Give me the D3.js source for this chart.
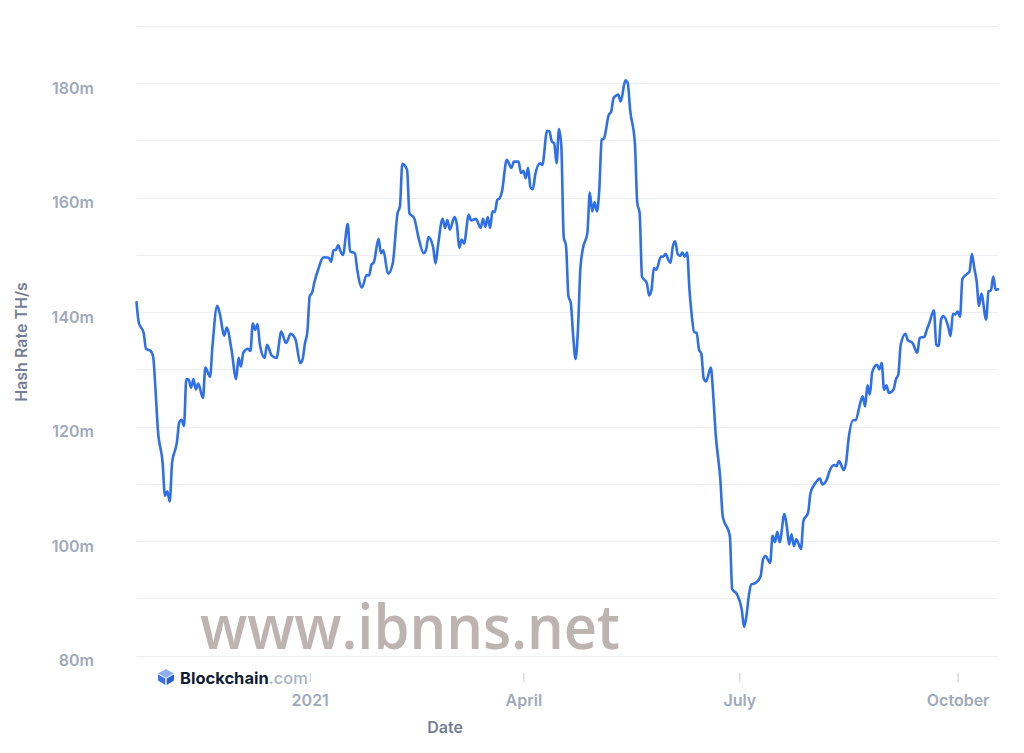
<!DOCTYPE html>
<html>
<head>
<meta charset="utf-8">
<script src="https://cdn.jsdelivr.net/npm/d3@7"></script>
<style>
  html, body { margin: 0; padding: 0; background: #ffffff; }
  svg { display: block; }
</style>
</head>
<body>
<svg id="chart" width="1024" height="753"></svg>
<script>
// ---- Data ----
const dates = [
"2020-10-20","2020-10-21","2020-10-23","2020-10-24","2020-10-26","2020-10-27","2020-10-28","2020-10-29","2020-10-31",
"2020-11-01","2020-11-02","2020-11-03","2020-11-04","2020-11-06","2020-11-07","2020-11-08","2020-11-09","2020-11-10",
"2020-11-11","2020-11-12","2020-11-13","2020-11-14","2020-11-15","2020-11-17","2020-11-18","2020-11-20","2020-11-21",
"2020-11-23","2020-11-24","2020-11-26","2020-11-27","2020-11-29","2020-12-01","2020-12-02","2020-12-03","2020-12-04",
"2020-12-06","2020-12-07","2020-12-08","2020-12-09","2020-12-10","2020-12-11","2020-12-13","2020-12-14","2020-12-16",
"2020-12-18","2020-12-20","2020-12-22","2020-12-24","2020-12-26","2020-12-28","2020-12-29","2020-12-30","2020-12-31",
"2021-01-01","2021-01-02","2021-01-03","2021-01-05","2021-01-06","2021-01-07","2021-01-09","2021-01-10","2021-01-11",
"2021-01-12","2021-01-13","2021-01-14","2021-01-15","2021-01-17","2021-01-18","2021-01-20","2021-01-21","2021-01-23",
"2021-01-25","2021-01-26","2021-01-27","2021-01-28","2021-01-30","2021-01-31","2021-02-01","2021-02-03","2021-02-05",
"2021-02-07","2021-02-08","2021-02-09","2021-02-11","2021-02-12","2021-02-14","2021-02-16","2021-02-18","2021-02-19",
"2021-02-20","2021-02-22","2021-02-23","2021-02-24","2021-02-26","2021-02-27","2021-02-28","2021-03-01","2021-03-03",
"2021-03-04","2021-03-05","2021-03-06","2021-03-07","2021-03-09","2021-03-10","2021-03-12","2021-03-14","2021-03-15",
"2021-03-16","2021-03-17","2021-03-18","2021-03-19","2021-03-20","2021-03-21","2021-03-22","2021-03-23","2021-03-25",
"2021-03-27","2021-03-28","2021-03-30","2021-03-31","2021-04-01","2021-04-02","2021-04-03","2021-04-04","2021-04-05",
"2021-04-06","2021-04-08","2021-04-09","2021-04-11","2021-04-12","2021-04-13","2021-04-14","2021-04-15","2021-04-16",
"2021-04-17","2021-04-18","2021-04-19","2021-04-20","2021-04-21","2021-04-22","2021-04-23","2021-04-24","2021-04-25",
"2021-04-26","2021-04-28","2021-04-29","2021-04-30","2021-05-01","2021-05-02","2021-05-03","2021-05-04","2021-05-05",
"2021-05-07","2021-05-08","2021-05-09","2021-05-10","2021-05-11","2021-05-12","2021-05-14","2021-05-15","2021-05-16",
"2021-05-18","2021-05-19","2021-05-20","2021-05-21","2021-05-23","2021-05-24","2021-05-25","2021-05-26","2021-05-27",
"2021-05-29","2021-05-30","2021-05-31","2021-06-01","2021-06-02","2021-06-03","2021-06-04","2021-06-05","2021-06-06",
"2021-06-07","2021-06-08","2021-06-09","2021-06-10","2021-06-11","2021-06-12","2021-06-13","2021-06-14","2021-06-15",
"2021-06-16","2021-06-17","2021-06-19","2021-06-20","2021-06-21","2021-06-23","2021-06-24","2021-06-27","2021-06-28",
"2021-06-30","2021-07-02","2021-07-03","2021-07-04","2021-07-05","2021-07-06","2021-07-08","2021-07-10","2021-07-11",
"2021-07-12","2021-07-14","2021-07-15","2021-07-16","2021-07-17","2021-07-18","2021-07-20","2021-07-21","2021-07-22",
"2021-07-23","2021-07-24","2021-07-25","2021-07-27","2021-07-28","2021-07-30","2021-07-31","2021-08-02","2021-08-04",
"2021-08-05","2021-08-07","2021-08-08","2021-08-10","2021-08-11","2021-08-12","2021-08-14","2021-08-15","2021-08-16",
"2021-08-18","2021-08-19","2021-08-21","2021-08-22","2021-08-23","2021-08-24","2021-08-25","2021-08-26","2021-08-28",
"2021-08-29","2021-08-30","2021-08-31","2021-09-01","2021-09-02","2021-09-04","2021-09-05","2021-09-06","2021-09-07",
"2021-09-09","2021-09-10","2021-09-12","2021-09-14","2021-09-15","2021-09-17","2021-09-18","2021-09-19","2021-09-21",
"2021-09-22","2021-09-23","2021-09-24","2021-09-25","2021-09-27","2021-09-28","2021-09-29","2021-09-30","2021-10-01",
"2021-10-02","2021-10-03","2021-10-05","2021-10-06","2021-10-07","2021-10-08","2021-10-09","2021-10-10","2021-10-11",
"2021-10-13","2021-10-14","2021-10-15","2021-10-16","2021-10-17","2021-10-18"
];
// hash rate in millions of TH/s
const hashRate = [
141.7,138.1,136.4,133.6,133.2,132.3,126.5,119.5,113.7,
107.9,108.7,106.9,113.7,117.2,120.7,121.2,120.1,128.3,
128.2,126.8,128.3,126.5,127.5,125.0,130.3,128.7,134.0,
141.1,139.9,135.9,137.3,133.5,128.3,132.0,130.5,132.9,
133.6,133.2,138.0,136.9,137.9,134.3,132.0,134.3,132.4,
132.0,136.6,134.6,136.2,135.2,131.1,131.8,134.6,136.6,
142.8,143.4,145.3,148.0,149.2,149.6,149.5,148.8,150.8,
150.9,151.7,150.6,150.0,155.4,150.6,150.3,147.4,144.3,
146.5,146.4,148.3,148.7,152.8,150.3,150.8,146.7,148.6,
157.3,158.5,165.9,164.9,157.3,156.4,152.7,150.3,150.9,
153.1,151.3,148.5,151.5,156.3,154.7,156.1,154.4,156.6,
155.3,151.2,152.7,152.0,157.0,156.0,156.3,154.7,156.3,
154.9,156.6,154.7,157.6,157.5,159.6,159.9,161.1,166.6,
165.2,166.3,166.3,164.3,164.7,163.4,165.2,161.8,161.5,
164.0,166.0,165.7,171.7,171.6,169.8,169.5,166.0,172.0,
169.0,153.2,151.5,142.8,141.6,135.8,131.8,136.9,147.4,
150.9,153.9,160.9,157.6,159.2,157.6,161.4,170.1,170.4,
174.5,175.0,177.4,177.8,178.0,176.8,180.5,180.0,175.3,
169.5,159.1,157.3,146.2,145.1,142.9,143.9,147.7,147.4,
149.7,149.7,150.2,149.2,148.6,151.5,152.4,150.2,149.8,
150.4,149.7,150.4,143.9,139.3,136.5,136.4,133.5,132.7,
128.4,127.9,130.3,125.6,118.9,110.8,104.4,100.9,91.6,
90.7,88.1,85.0,86.9,90.4,92.4,92.7,93.9,96.8,
97.4,96.2,100.9,99.8,101.6,99.8,104.7,102.6,99.4,
101.2,99.1,100.3,98.6,103.5,105.0,108.4,110.1,110.9,
109.9,110.9,112.2,113.3,113.1,114.0,112.4,113.7,117.7,
121.1,121.1,124.2,125.3,123.5,127.2,125.6,129.5,130.8,
130.0,131.1,126.4,127.2,125.9,126.5,128.3,129.1,134.3,
136.2,135.1,134.6,132.9,135.5,135.7,136.9,138.0,140.3,
134.3,134.1,138.7,139.3,137.5,135.8,139.7,139.6,140.1,
139.2,145.8,146.7,147.1,150.2,147.7,145.4,141.1,143.2,
138.7,143.6,143.8,146.2,143.9,144.0
];
const yTicks = [80, 100, 120, 140, 160, 180];
const yGrid = [80, 90, 100, 110, 120, 130, 140, 150, 160, 170, 180, 190];
const xTickDates = ["2021-01-01", "2021-04-01", "2021-07-01", "2021-10-01"];
const xTickLabels = ["2021", "April", "July", "October"];
const yTitle = "Hash Rate TH/s";
const xTitle = "Date";
const watermark = "www.ibnns.net";

// ---- Chart ----
const parse = d3.utcParse("%Y-%m-%d");
const data = dates.map((d, i) => ({ date: parse(d), value: hashRate[i] }));

const svg = d3.select("#chart");
const plotLeft = 136.5, plotRight = 998, plotTop = 26, plotBottom = 655.5;

const x = d3.scaleUtc()
  .domain([parse("2020-10-20"), parse("2021-10-18")])
  .range([plotLeft, plotRight]);
const y = d3.scaleLinear().domain([80, 190]).range([plotBottom, plotTop]);

const font = "Inter, 'Noto Sans', sans-serif";

// gridlines
svg.append("g").selectAll("line").data(yGrid).join("line")
  .attr("x1", plotLeft).attr("x2", plotRight)
  .attr("y1", d => Math.round(y(d)) + 0.5).attr("y2", d => Math.round(y(d)) + 0.5)
  .attr("stroke", "#eceef3").attr("stroke-width", 1);

// y axis labels (sit slightly below their gridline, as in the original)
const yAxis = d3.axisLeft(y).tickValues(yTicks).tickSize(0).tickPadding(0)
  .tickFormat(d => d + "m");
svg.append("g").attr("transform", "translate(94,4.5)").call(yAxis)
  .call(g => g.select(".domain").remove())
  .call(g => g.selectAll("text")
    .attr("fill", "#a1a9bb").attr("font-family", font)
    .attr("font-size", 16).attr("font-weight", 600).attr("dy", "0.35em"));

// x axis ticks and labels
const xAxis = d3.axisBottom(x).tickValues(xTickDates.map(parse))
  .tickSize(9).tickPadding(13)
  .tickFormat((d, i) => xTickLabels[i]);
svg.append("g").attr("transform", "translate(0,673)").call(xAxis)
  .call(g => g.select(".domain").remove())
  .call(g => g.selectAll(".tick line").attr("stroke", "#c3c8d2").attr("stroke-width", 1))
  .call(g => g.selectAll("text")
    .attr("fill", "#a1a9bb").attr("font-family", font)
    .attr("font-size", 16).attr("font-weight", 600));

// axis titles
svg.append("text")
  .attr("transform", "translate(27,342) rotate(-90)")
  .attr("text-anchor", "middle")
  .attr("fill", "#747d91").attr("font-family", font)
  .attr("font-size", 16).attr("font-weight", 600)
  .text(yTitle);

svg.append("text")
  .attr("x", 445).attr("y", 733)
  .attr("text-anchor", "middle")
  .attr("fill", "#747d91").attr("font-family", font)
  .attr("font-size", 16).attr("font-weight", 600)
  .text(xTitle);

// watermark
svg.append("text")
  .attr("x", 200).attr("y", 649)
  .attr("fill", "#bdb3b1")
  .attr("font-family", "'Open Sans', 'DejaVu Sans', sans-serif")
  .attr("font-size", 62).attr("font-weight", 600)
  .attr("textLength", 420).attr("lengthAdjust", "spacingAndGlyphs")
  .text(watermark);

// line
const line = d3.line()
  .x(d => x(d.date)).y(d => y(d.value))
  .curve(d3.curveMonotoneX);
svg.append("path").datum(data)
  .attr("d", line)
  .attr("fill", "none")
  .attr("stroke", "#2f6fe8")
  .attr("stroke-width", 2.6)
  .attr("stroke-linejoin", "round")
  .attr("stroke-linecap", "round");

// Blockchain.com logo
const logo = svg.append("g").attr("transform", "translate(158,669)");
logo.append("path").attr("d", "M8,0 L16,4.5 L8,9 L0,4.5 Z").attr("fill", "#8fb0f7");
logo.append("path").attr("d", "M0,5.5 L7.3,9.6 L7.3,16 L0,11.5 Z").attr("fill", "#3d73e8");
logo.append("path").attr("d", "M16,5.5 L8.7,9.6 L8.7,16 L16,11.5 Z").attr("fill", "#2a5fd6");
const lt = svg.append("text").attr("x", 180).attr("y", 684)
  .attr("font-family", font).attr("font-size", 16.5);
lt.append("tspan").attr("fill", "#121d33").attr("font-weight", 700).text("Blockchain");
lt.append("tspan").attr("fill", "#a9b0bf").attr("font-weight", 500).text(".com");
</script>
</body>
</html>
